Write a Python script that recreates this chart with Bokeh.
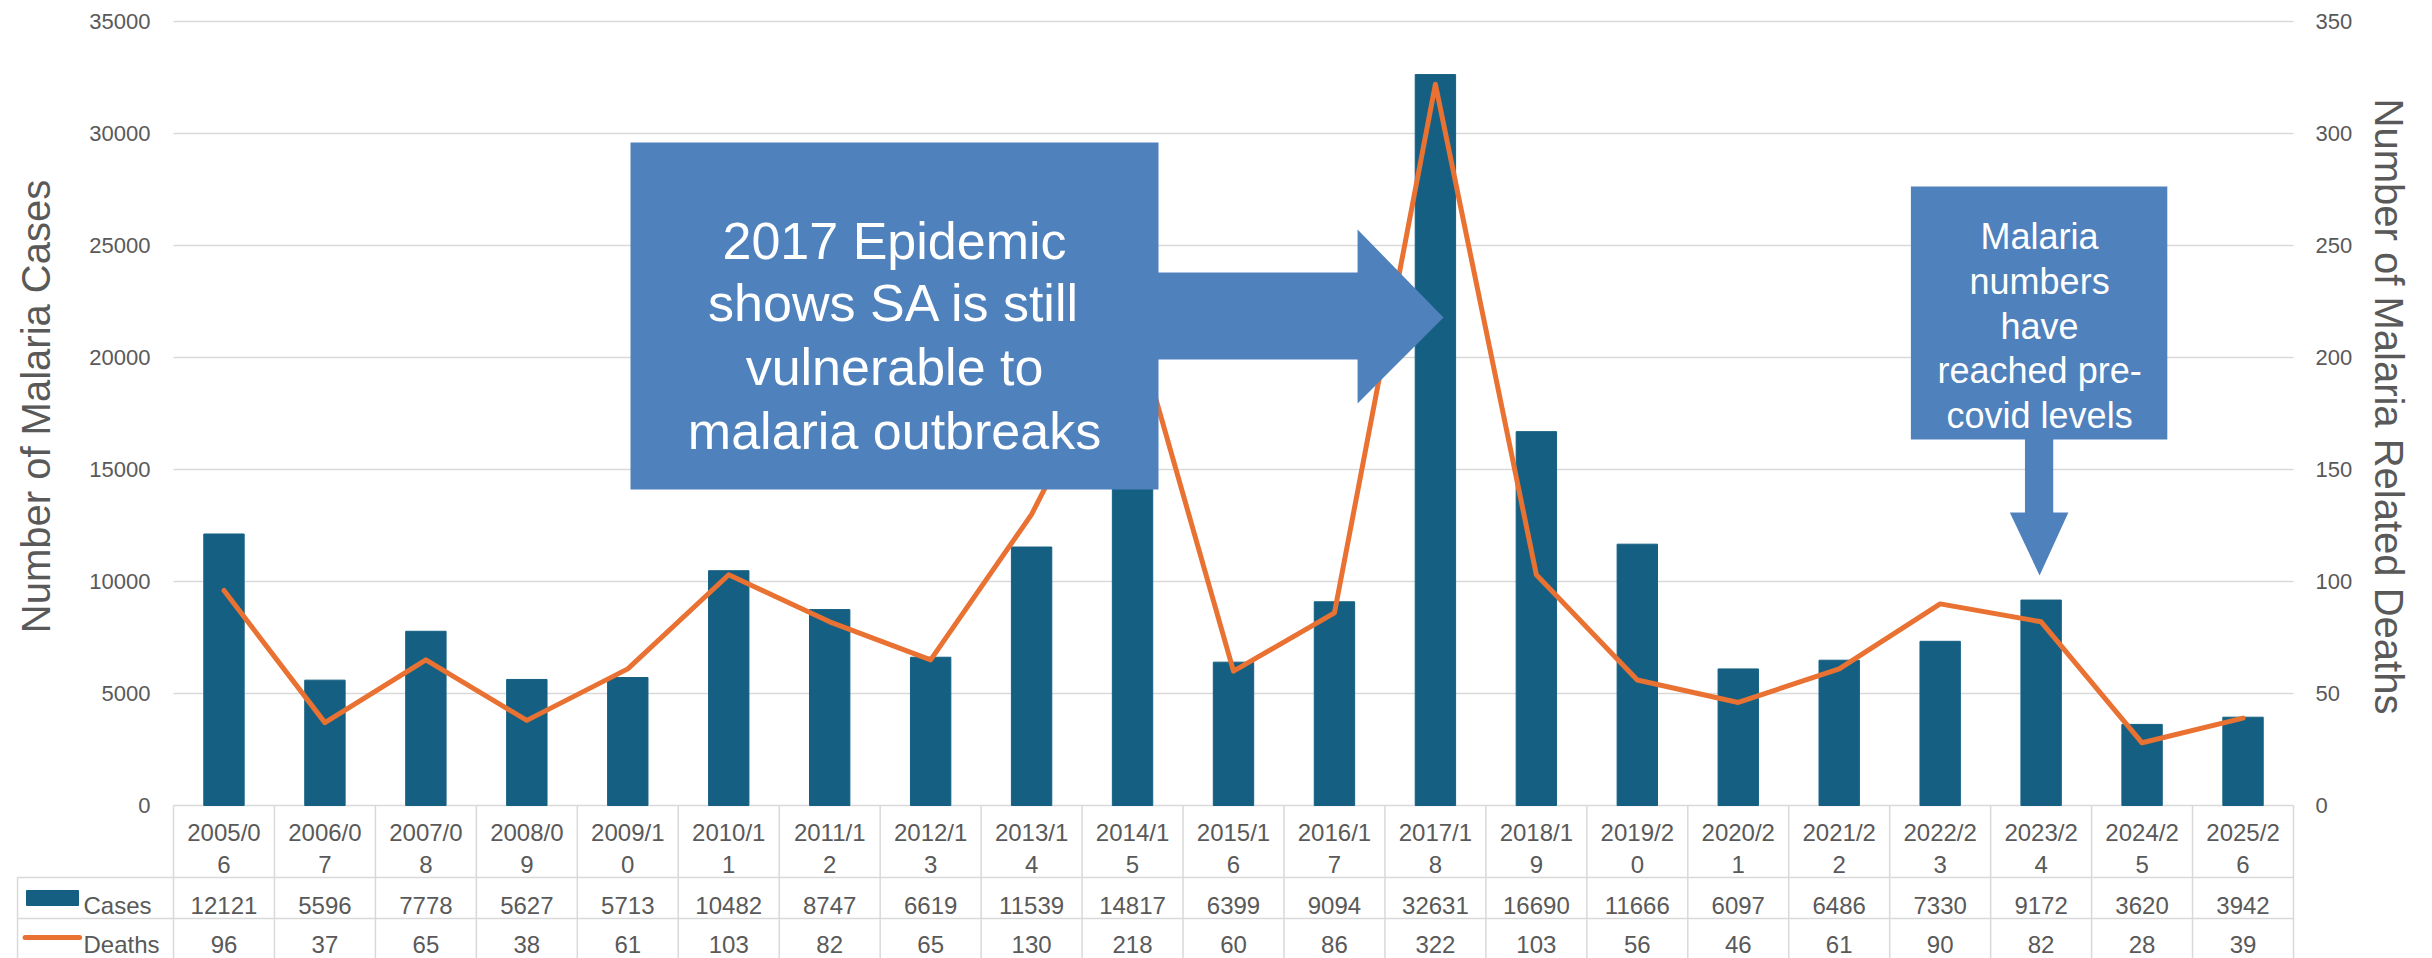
from bokeh.plotting import figure
from bokeh.models import Range1d, LinearAxis, Label
from bokeh.embed import file_html
from bokeh.resources import INLINE
from bokeh.core.properties import value

# ---------------- data ----------------
categories = ["2005/06", "2006/07", "2007/08", "2008/09", "2009/10", "2010/11",
              "2011/12", "2012/13", "2013/14", "2014/15", "2015/16", "2016/17",
              "2017/18", "2018/19", "2019/20", "2020/21", "2021/22", "2022/23",
              "2023/24", "2024/25", "2025/26"]
cases = [12121, 5596, 7778, 5627, 5713, 10482, 8747, 6619, 11539, 14817, 6399,
         9094, 32631, 16690, 11666, 6097, 6486, 7330, 9172, 3620, 3942]
deaths = [96, 37, 65, 38, 61, 103, 82, 65, 130, 218, 60, 86, 322, 103, 56, 46,
          61, 90, 82, 28, 39]
case_ticks = [0, 5000, 10000, 15000, 20000, 25000, 30000, 35000]
death_ticks = [0, 50, 100, 150, 200, 250, 300, 350]
series_names = ["Cases", "Deaths"]
callout1_lines = ["2017 Epidemic", "shows SA is still", "vulnerable to", "malaria outbreaks"]
callout2_lines = ["Malaria", "numbers", "have", "reached pre-", "covid levels"]

# ---------------- style ----------------
BAR = "#156082"
LINE = "#E97132"
GRID = "#D9D9D9"
TXT = "#595959"
CALL = "#4F81BD"
FONT = "Liberation Sans"

n = len(categories)
xs = [i + 0.5 for i in range(n)]

CASES_MAX = 35000
DEATHS_MAX = 350
TOP_PX = 21        # space above the top gridline
PLOT_PX = 784      # height of the value area in pixels
TABLE_PX = 153     # visible height of the data table below the value area
COL_PX = 100.95    # width of one category column in pixels
LEFT_PX = 173      # space left of the first category column
RIGHT_PX = 139     # space right of the last category column
LEAD = 1.545       # width of the table's series-name column, in category widths
RATIO = DEATHS_MAX / CASES_MAX


def ty(px):
    """pixel offset below the zero line -> cases-axis units"""
    return -px * CASES_MAX / PLOT_PX


p = figure(width=2432, height=TOP_PX + PLOT_PX + TABLE_PX,
           x_range=Range1d(-LEFT_PX / COL_PX, n + RIGHT_PX / COL_PX),
           y_range=Range1d(ty(TABLE_PX), ty(-PLOT_PX - TOP_PX)),
           output_backend="svg", toolbar_location=None, x_axis_location=None,
           min_border_left=0, min_border_right=0,
           min_border_top=0, min_border_bottom=0)
p.extra_y_ranges = {"deaths": Range1d(ty(TABLE_PX) * RATIO,
                                      ty(-PLOT_PX - TOP_PX) * RATIO)}
p.outline_line_color = None
p.background_fill_color = "white"
p.border_fill_color = "white"
p.grid.visible = False

title_top = ty(-PLOT_PX - 14)   # axis titles are centred a little above the frame middle
ax_l = p.yaxis[0]
ax_l.fixed_location = 0
ax_l.bounds = (0, title_top)
ax_r = LinearAxis(y_range_name="deaths", fixed_location=n,
                  bounds=(0, title_top * RATIO))
p.add_layout(ax_r, "right")
ax_l.ticker = case_ticks
ax_r.ticker = death_ticks
ax_l.axis_label = "Number of Malaria Cases"
ax_r.axis_label = "Number of Malaria Related Deaths"
for ax, st, lst in ((ax_l, 23, 28), (ax_r, 22, 12)):
    ax.axis_line_color = None
    ax.major_tick_line_color = None
    ax.minor_tick_line_color = None
    ax.major_tick_out = 0
    ax.major_tick_in = 0
    ax.major_label_standoff = st
    ax.major_label_text_font = FONT
    ax.major_label_text_font_size = "22px"
    ax.major_label_text_color = TXT
    ax.axis_label_text_font = FONT
    ax.axis_label_text_font_size = "40px"
    ax.axis_label_text_font_style = "normal"
    ax.axis_label_text_color = TXT
    ax.axis_label_standoff = lst

# horizontal value grid, only over the value area
p.segment(x0=[0] * len(case_ticks), y0=case_ticks, x1=[n] * len(case_ticks),
          y1=case_ticks, line_color=GRID, line_width=1.5)

# ---------------- data table (below zero) ----------------
vx = [float(i) for i in range(n + 1)]
p.segment(x0=vx, y0=[0] * len(vx), x1=vx, y1=[ty(170)] * len(vx),
          line_color=GRID, line_width=1.5)
p.segment(x0=[-LEAD], y0=[ty(72)], x1=[-LEAD], y1=[ty(170)],
          line_color=GRID, line_width=1.5)
p.segment(x0=[-LEAD, -LEAD], y0=[ty(72), ty(113)], x1=[n, n], y1=[ty(72), ty(113)],
          line_color=GRID, line_width=1.5)

first = [c[:6] for c in categories]
second = [c[6:] for c in categories]
common = dict(text_font=value(FONT), text_font_size="24px", text_color=TXT,
              text_align="center", text_baseline="alphabetic")
p.text(x=xs, y=[ty(27)] * n, text=first, **common)
p.text(x=xs, y=[ty(59)] * n, text=second, **common)
p.text(x=xs, y=[ty(100)] * n, text=[str(v) for v in cases], **common)
p.text(x=xs, y=[ty(139)] * n, text=[str(v) for v in deaths], **common)

# series keys in the table's first column
p.quad(left=[-1.456], right=[-0.941], bottom=[ty(100)], top=[ty(85)], color=BAR)
p.line(x=[-1.47, -0.93], y=[ty(132), ty(132)], line_color=LINE, line_width=5,
       line_cap="round")
p.text(x=[-0.892, -0.892], y=[ty(100), ty(139)], text=series_names,
       text_font=value(FONT), text_font_size="24px", text_color=TXT,
       text_align="left", text_baseline="alphabetic")

# ---------------- series ----------------
p.vbar(x=xs, top=cases, width=0.4, color=BAR)
p.line(x=xs, y=deaths, y_range_name="deaths", line_color=LINE,
       line_width=5, line_join="round", line_cap="round")

# ---------------- callouts ----------------
c1x = [4.527, 9.757, 9.757, 11.729, 11.729, 12.58, 11.729, 11.729, 9.757, 9.757, 4.527]
c1y = [29600, 29600, 23795, 23795, 25714, 21786, 17946, 19911, 19911, 14107, 14107]
p.patch(c1x, c1y, fill_color=CALL, line_color=None)
for txt, yy in zip(callout1_lines, [25223, 22411, 19554, 16741]):
    p.add_layout(Label(x=7.142, y=yy, text=txt, text_align="center",
                       text_baseline="alphabetic", text_color="white",
                       text_font=FONT, text_font_size="52px"))

c2x = [17.21, 19.75, 19.75, 18.62, 18.62, 18.77, 18.485, 18.19, 18.34, 18.34, 17.21]
c2y = [27630, 27630, 16340, 16340, 13080, 13080, 10270, 13080, 13080, 16340, 16340]
p.patch(c2x, c2y, fill_color=CALL, line_color=None)
for txt, yy in zip(callout2_lines, [25400, 23390, 21380, 19420, 17410]):
    p.add_layout(Label(x=18.485, y=yy, text=txt, text_align="center",
                       text_baseline="alphabetic", text_color="white",
                       text_font=FONT, text_font_size="36px"))

open("out.html", "w").write(file_html(p, INLINE))
